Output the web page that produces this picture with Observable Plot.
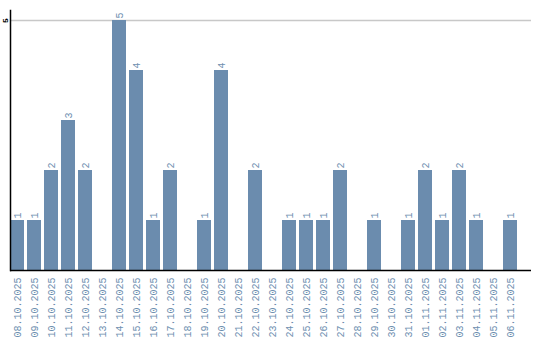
<!DOCTYPE html>
<html>
<head>
<meta charset="utf-8">
<script src="https://cdn.jsdelivr.net/npm/d3@7"></script>
<script src="https://cdn.jsdelivr.net/npm/@observablehq/plot@0.6"></script>
<style>
  html, body { margin: 0; padding: 0; background: #fff; }
</style>
</head>
<body>
<div id="chart"></div>
<script>
const dates = ["08.10.2025","09.10.2025","10.10.2025","11.10.2025","12.10.2025","13.10.2025","14.10.2025","15.10.2025","16.10.2025","17.10.2025","18.10.2025","19.10.2025","20.10.2025","21.10.2025","22.10.2025","23.10.2025","24.10.2025","25.10.2025","26.10.2025","27.10.2025","28.10.2025","29.10.2025","30.10.2025","31.10.2025","01.11.2025","02.11.2025","03.11.2025","04.11.2025","05.11.2025","06.11.2025"];
const counts = [1,1,2,3,2,0,5,4,1,2,0,1,4,0,2,0,1,1,1,2,0,1,0,1,2,1,2,1,0,1];
const yTicks = [5];

const data = dates.map((d, i) => ({date: d, count: counts[i]}));
const barColor = "#6b8cae";
const textColor = "#6e8fb0";

const chart = Plot.plot({
  width: 540,
  height: 340,
  marginLeft: 10,
  marginRight: 9,
  marginTop: 10,
  marginBottom: 70,
  style: {fontFamily: "Liberation Mono, DejaVu Sans Mono, monospace", background: "#fff"},
  x: {type: "band", domain: dates, paddingInner: 0.18, paddingOuter: 0.4, align: 0, label: null},
  y: {domain: [0, 5.2], label: null},
  marks: [
    Plot.ruleY(yTicks, {stroke: "#c8c8c8", strokeWidth: 1.5}),
    Plot.barY(data, {x: "date", y: "count", fill: barColor}),
    Plot.text(data.filter(d => d.count > 0), {
      x: "date", y: "count", text: d => String(d.count),
      rotate: -90, textAnchor: "start", dy: -2, fill: textColor, fontSize: 10
    }),
    Plot.axisX({tickSize: 0, tickPadding: 7, tickRotate: -90, fill: textColor, fontSize: 10, label: null}),
    Plot.axisY({ticks: yTicks, tickFormat: d => String(d), tickSize: 0, tickPadding: 3, tickRotate: -90, fill: "#000", fontSize: 8, fontWeight: "bold", label: null, textAnchor: "middle"}),
    Plot.frame({anchor: "left", stroke: "#000", strokeWidth: 1.5}),
    Plot.ruleY([0], {stroke: "#000", strokeWidth: 1.5})
  ]
});
document.getElementById("chart").appendChild(chart);
</script>
</body>
</html>
